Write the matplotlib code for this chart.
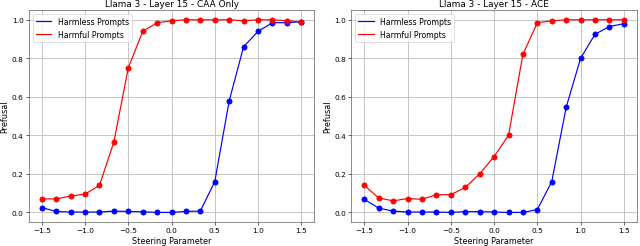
import numpy as np
import matplotlib
matplotlib.use("Agg")
import matplotlib.pyplot as plt

# steering parameter values (19 steps)
steer = [-1.5, -1.333, -1.167, -1.0, -0.833, -0.667, -0.5, -0.333, -0.167, 0.0,
         0.167, 0.333, 0.5, 0.667, 0.833, 1.0, 1.167, 1.333, 1.5]

# CAA only
caa_harmless = [0.025, 0.005, 0.002, 0.002, 0.002, 0.007, 0.005, 0.003, 0.0, 0.0,
                0.005, 0.007, 0.16, 0.58, 0.86, 0.94, 0.985, 0.985, 0.99]
caa_harmful = [0.07, 0.07, 0.085, 0.095, 0.14, 0.365, 0.75, 0.94, 0.985, 0.995,
               1.0, 1.0, 1.0, 1.0, 0.995, 1.0, 1.0, 0.995, 0.99]

# ACE
ace_harmless = [0.068, 0.022, 0.007, 0.002, 0.002, 0.002, 0.0, 0.004, 0.004, 0.002,
                0.0, 0.0, 0.015, 0.16, 0.545, 0.80, 0.925, 0.965, 0.98]
ace_harmful = [0.14, 0.075, 0.06, 0.072, 0.068, 0.092, 0.092, 0.13, 0.2, 0.29,
               0.40, 0.82, 0.985, 0.995, 1.0, 1.0, 1.0, 1.0, 1.0]

titles = ["Llama 3 - Layer 15 - CAA Only", "Llama 3 - Layer 15 - ACE"]
panels = [(caa_harmless, caa_harmful), (ace_harmless, ace_harmful)]

fig, axes = plt.subplots(1, 2, figsize=(12, 4.63), dpi=640 / 12)
fig.subplots_adjust(left=0.045, right=0.995, top=0.955, bottom=0.097, wspace=0.13)

for ax, title, (harmless, harmful) in zip(axes, titles, panels):
    # lines carry the legend, markers drawn on top without labels
    ax.plot(steer, harmless, color="blue", linewidth=1.6, label="Harmless Prompts")
    ax.plot(steer, harmful, color="red", linewidth=1.6, label="Harmful Prompts")
    ax.plot(steer, harmless, color="blue", marker="o", markersize=7, linestyle="none")
    ax.plot(steer, harmful, color="red", marker="o", markersize=7, linestyle="none")
    ax.set_title(title, fontsize=12)
    ax.set_xlabel("Steering Parameter", fontsize=11)
    ax.set_ylabel("Prefusal", fontsize=11, labelpad=3)
    ax.set_xticks([-1.5, -1.0, -0.5, 0.0, 0.5, 1.0, 1.5])
    ax.set_yticks([0.0, 0.2, 0.4, 0.6, 0.8, 1.0])
    ax.tick_params(labelsize=10)
    ax.grid(True, color="#c4c4c4", linewidth=1.3)
    for s in ax.spines.values():
        s.set_color("#444444")
    ax.legend(loc="upper left", fontsize=10.5)

plt.savefig("out.png")
